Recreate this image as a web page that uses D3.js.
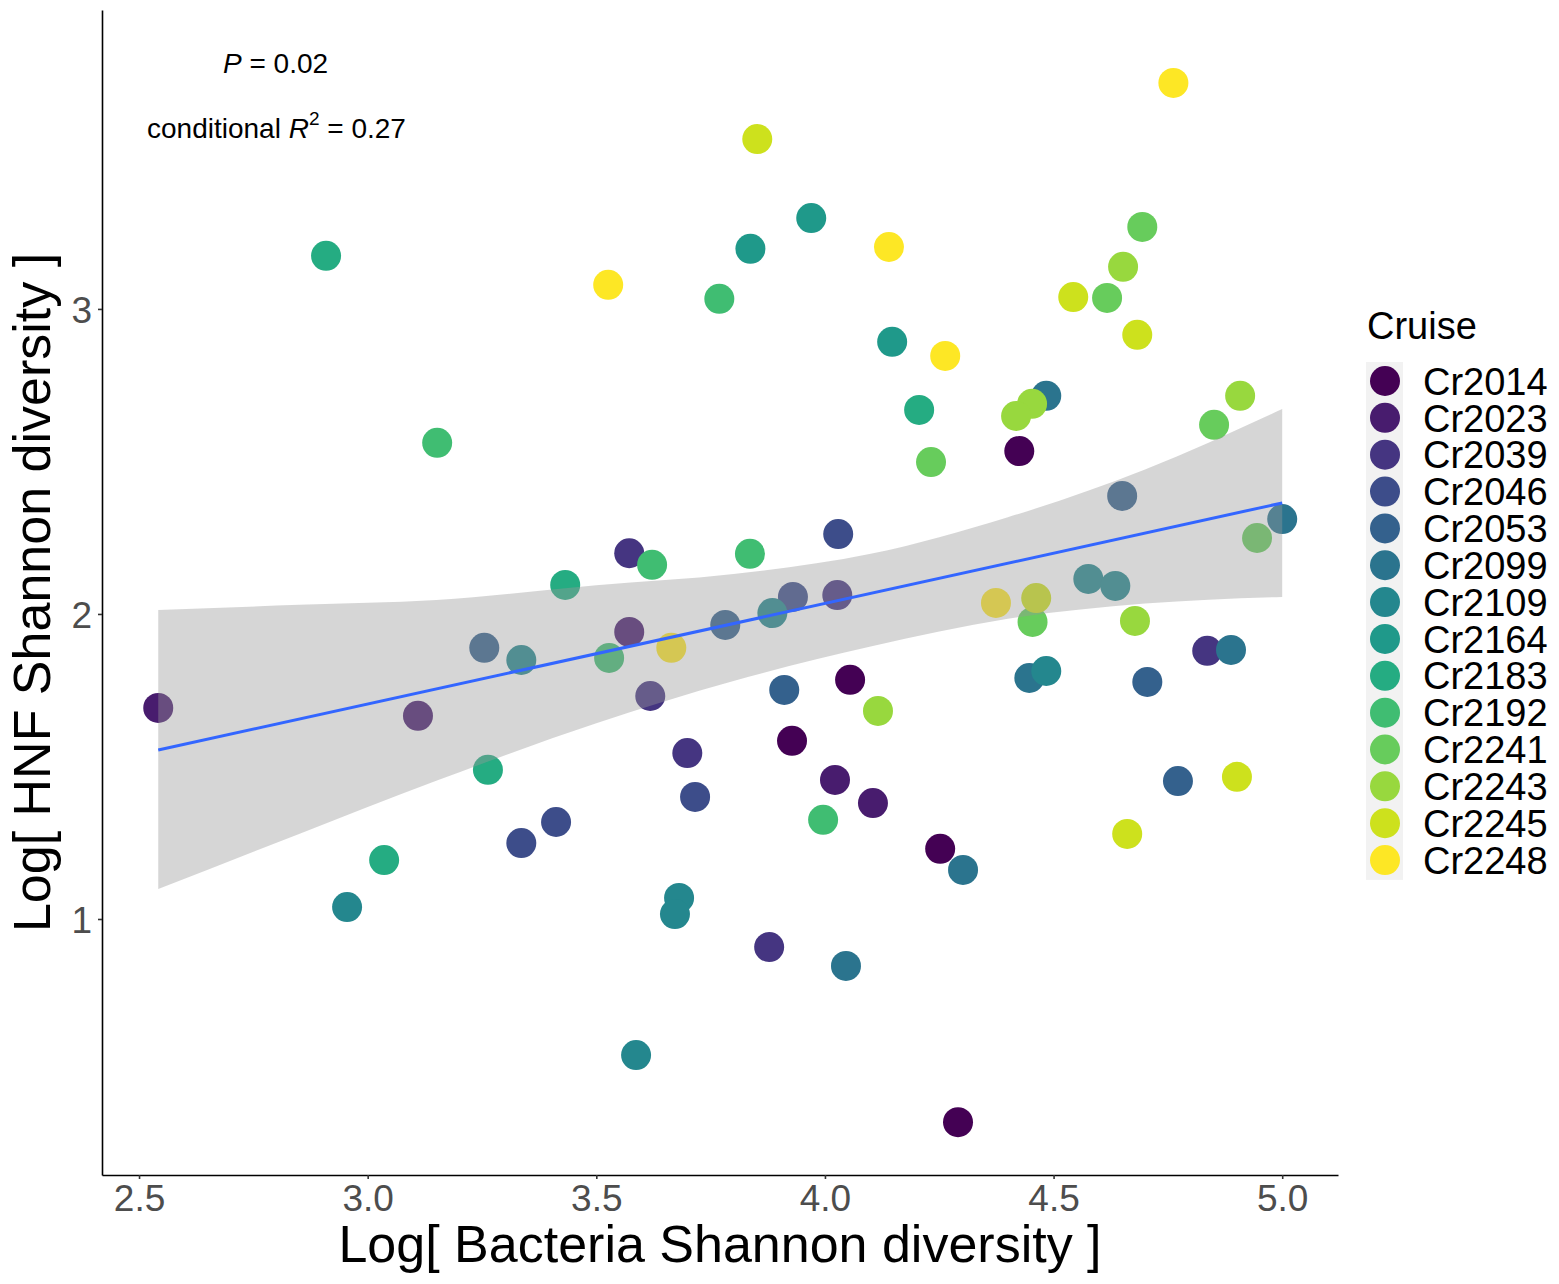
<!DOCTYPE html>
<html>
<head>
<meta charset="utf-8">
<script src="https://cdn.jsdelivr.net/npm/d3@7"></script>
<style>
  body { margin: 0; background: #fff; }
  svg { display: block; font-family: Arial, "Liberation Sans", sans-serif; }
</style>
</head>
<body>
<div class="graph"></div>
<script>
// cruises (legend order)
const cruises = ['Cr2014', 'Cr2023', 'Cr2039', 'Cr2046', 'Cr2053', 'Cr2099', 'Cr2109',
  'Cr2164', 'Cr2183', 'Cr2192', 'Cr2241', 'Cr2243', 'Cr2245', 'Cr2248']

// one entry per sample: log bacteria shannon, log HNF shannon, cruise
const bacteria = [
  4.425, 4.055, 3.928, 4.252, 4.291,
  2.542, 3.110, 3.572, 4.022, 4.105,
  3.572, 4.027, 3.618, 4.836, 3.699, 3.878,
  4.029, 3.930, 3.716, 3.412, 3.336,
  3.255, 4.650, 3.782, 4.705, 3.911, 4.772,
  4.484, 5.000, 4.888, 4.447, 4.302, 4.046,
  2.955, 3.336, 4.576, 4.635, 3.885, 4.484, 3.681, 3.672, 3.587,
  3.970, 3.837, 4.147,
  2.909, 3.036, 3.263, 3.432, 4.206,
  3.152, 3.769, 3.622, 3.836, 3.528, 3.996,
  4.694, 4.617, 4.851, 4.232, 4.945, 4.454,
  4.652, 4.453, 4.418, 4.908, 4.678, 4.116,
  3.852, 4.543, 4.683, 4.462, 4.901, 4.661,
  4.762, 4.140, 3.526, 4.263, 4.374, 3.664
]
const hnf = [
  2.534, 1.784, 1.584, 1.230, 0.334,
  1.692, 1.666, 1.941, 1.456, 1.380,
  2.199, 2.062, 1.731, 1.879, 1.544, 0.908,
  2.262, 2.056, 1.400, 1.318, 1.249,
  1.889, 2.387, 1.964, 1.777, 1.751, 1.452,
  2.715, 2.311, 1.882, 1.790, 1.161, 0.846,
  1.039, 1.849, 2.115, 2.092, 2.003, 1.813, 1.069, 1.016, 0.554,
  3.298, 3.197, 2.892,
  3.174, 1.193, 1.489, 2.095, 2.669,
  2.561, 3.033, 2.161, 2.197, 1.856, 1.325,
  3.269, 3.036, 2.620, 2.498, 2.249, 1.974,
  3.138, 2.689, 2.649, 2.715, 1.977, 1.682,
  3.557, 3.039, 2.915, 2.052, 1.466, 1.279,
  3.741, 3.203, 3.079, 2.846, 2.036, 1.889
]
const cruiseOf = [
  'Cr2014', 'Cr2014', 'Cr2014', 'Cr2014', 'Cr2014',
  'Cr2023', 'Cr2023', 'Cr2023', 'Cr2023', 'Cr2023',
  'Cr2039', 'Cr2039', 'Cr2039', 'Cr2039', 'Cr2039', 'Cr2039',
  'Cr2046', 'Cr2046', 'Cr2046', 'Cr2046', 'Cr2046',
  'Cr2053', 'Cr2053', 'Cr2053', 'Cr2053', 'Cr2053', 'Cr2053',
  'Cr2099', 'Cr2099', 'Cr2099', 'Cr2099', 'Cr2099', 'Cr2099',
  'Cr2109', 'Cr2109', 'Cr2109', 'Cr2109', 'Cr2109', 'Cr2109', 'Cr2109', 'Cr2109', 'Cr2109',
  'Cr2164', 'Cr2164', 'Cr2164',
  'Cr2183', 'Cr2183', 'Cr2183', 'Cr2183', 'Cr2183',
  'Cr2192', 'Cr2192', 'Cr2192', 'Cr2192', 'Cr2192', 'Cr2192',
  'Cr2241', 'Cr2241', 'Cr2241', 'Cr2241', 'Cr2241', 'Cr2241',
  'Cr2243', 'Cr2243', 'Cr2243', 'Cr2243', 'Cr2243', 'Cr2243',
  'Cr2245', 'Cr2245', 'Cr2245', 'Cr2245', 'Cr2245', 'Cr2245',
  'Cr2248', 'Cr2248', 'Cr2248', 'Cr2248', 'Cr2248', 'Cr2248'
]

// fitted line + confidence band
const fitX = [2.542, 5.0]
const fitY = [1.554, 2.364]
const bandX = [2.542, 2.85, 3.15, 3.5, 3.8, 4.1, 4.4, 4.7, 5.0]
const bandLow = [1.098, 1.279, 1.453, 1.642, 1.780, 1.893, 1.984, 2.034, 2.056]
const bandHigh = [2.013, 2.030, 2.046, 2.094, 2.131, 2.197, 2.317, 2.474, 2.672]

const xTicks = [2.5, 3.0, 3.5, 4.0, 4.5, 5.0]
const yTicks = [1, 2, 3]

const W = 1559, H = 1284
const panel = { left: 102, right: 1338, top: 10, bottom: 1175 }

const svg = d3.select('.graph').append('svg')
  .attr('width', W).attr('height', H)
svg.append('rect').attr('width', W).attr('height', H).attr('fill', '#fff')

const x = d3.scaleLinear().domain([2.419, 5.122]).range([panel.left, panel.right])
const y = d3.scaleLinear().domain([0.1607, 3.980]).range([panel.bottom, panel.top])
const color = d3.scaleOrdinal().domain(cruises)
  .range(cruises.map((c, i) => d3.interpolateViridis(i / (cruises.length - 1))))

const pts = bacteria.map((b, i) => ({ b, h: hnf[i], c: cruiseOf[i] }))

//points first, ribbon goes over them like ggplot
svg.append('g').selectAll('circle')
  .data(pts)
  .enter()
  .append('circle')
  .attr('cx', d => x(d.b))
  .attr('cy', d => y(d.h))
  .attr('r', 15)
  .attr('fill', d => color(d.c))

const band = bandX.map((v, i) => ({ x: v, lo: bandLow[i], hi: bandHigh[i] }))
svg.append('path')
  .datum(band)
  .attr('fill', '#999999')
  .attr('fill-opacity', 0.4)
  .attr('d', d3.area().curve(d3.curveMonotoneX)
    .x(d => x(d.x)).y0(d => y(d.lo)).y1(d => y(d.hi)))

svg.append('line')
  .attr('x1', x(fitX[0])).attr('y1', y(fitY[0]))
  .attr('x2', x(fitX[1])).attr('y2', y(fitY[1]))
  .attr('stroke', '#3366FF').attr('stroke-width', 3)

// axes (tickSize first, it also sets the outer size)
const gx = svg.append('g')
  .attr('transform', `translate(0,${panel.bottom})`)
  .call(d3.axisBottom(x).tickValues(xTicks).tickFormat(d3.format('.1f')).tickSize(4).tickSizeOuter(0).tickPadding(6))
const gy = svg.append('g')
  .attr('transform', `translate(${panel.left},0)`)
  .call(d3.axisLeft(y).tickValues(yTicks).tickFormat(d3.format('d')).tickSize(4).tickSizeOuter(0).tickPadding(6))
;[gx, gy].forEach(g => {
  g.select('.domain').attr('stroke', '#000').attr('stroke-width', 1.6)
  g.selectAll('.tick line').attr('stroke', '#333').attr('stroke-width', 1.6)
  g.selectAll('.tick text').attr('fill', '#4d4d4d').attr('font-size', 37)
    .attr('font-family', 'Arial, "Liberation Sans", sans-serif')
})
gx.selectAll('.tick text').attr('dy', '0.71em')
gy.selectAll('.tick text').attr('dy', '0.36em')

svg.append('text')
  .attr('x', (panel.left + panel.right) / 2).attr('y', 1262)
  .attr('text-anchor', 'middle').attr('font-size', 52)
  .text('Log[ Bacteria Shannon diversity ]')
svg.append('text')
  .attr('transform', `translate(50,${(panel.top + panel.bottom) / 2}) rotate(-90)`)
  .attr('text-anchor', 'middle').attr('font-size', 52)
  .text('Log[ HNF Shannon diversity ]')

// stats annotation
const t1 = svg.append('text').attr('x', 223).attr('y', 73).attr('font-size', 28)
t1.append('tspan').attr('font-style', 'italic').text('P')
t1.append('tspan').text(' = 0.02')
const t2 = svg.append('text').attr('x', 147).attr('y', 138).attr('font-size', 28)
t2.append('tspan').text('conditional ')
t2.append('tspan').attr('font-style', 'italic').text('R')
t2.append('tspan').attr('font-size', 19).attr('dy', -13).text('2')
t2.append('tspan').attr('dy', 13).text(' = 0.27')

// legend
const leg = svg.append('g')
leg.append('text').attr('x', 1367).attr('y', 339).attr('font-size', 38).text('Cruise')
const keyStep = 36.85
leg.append('rect').attr('x', 1366).attr('y', 362)
  .attr('width', 37).attr('height', keyStep * cruises.length + 2).attr('fill', '#f2f2f2')
const items = leg.selectAll('g.item').data(cruises).enter().append('g')
  .attr('class', 'item')
  .attr('transform', (d, i) => `translate(0,${381 + i * keyStep})`)
items.append('circle').attr('cx', 1385).attr('r', 15).attr('fill', d => color(d))
items.append('text').attr('x', 1423).attr('dy', '0.36em').attr('font-size', 38).text(d => d)
</script>
</body>
</html>
